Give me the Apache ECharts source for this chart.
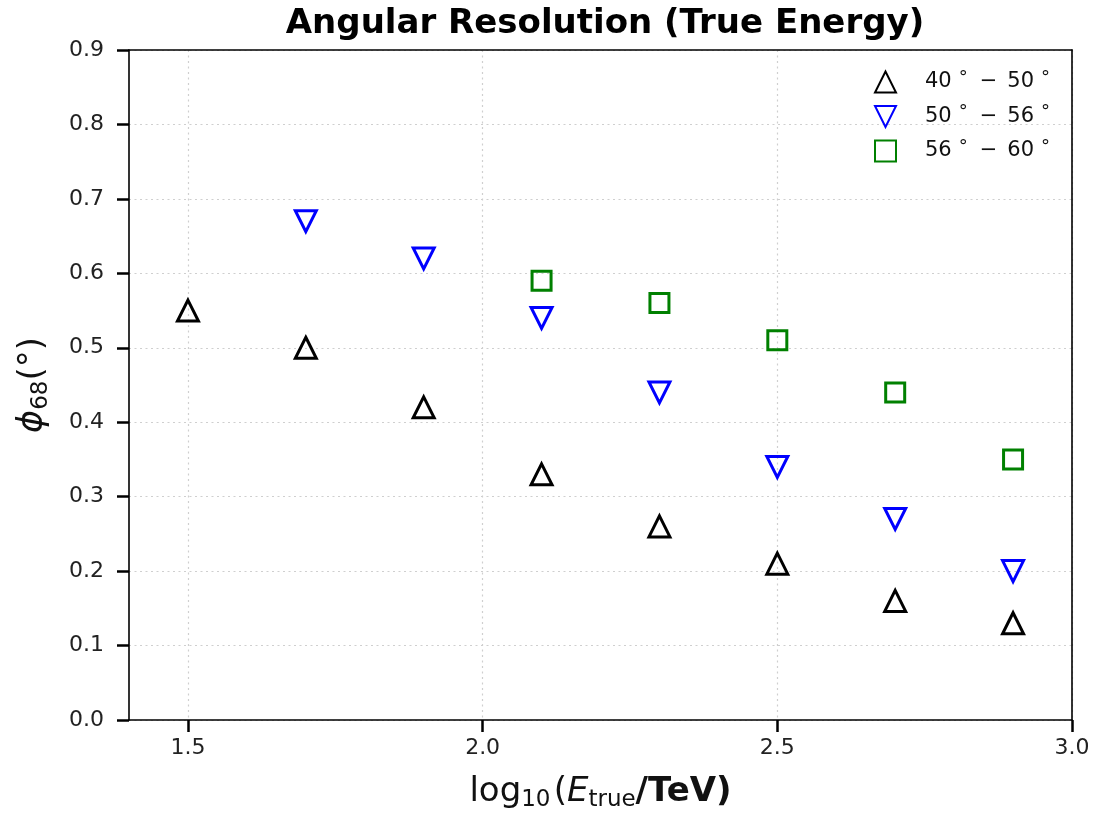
<!DOCTYPE html>
<html>
<head>
<meta charset="utf-8">
<script src="https://cdn.jsdelivr.net/npm/echarts@6/dist/echarts.min.js"></script>
<style>html,body{margin:0;padding:0;background:#fff;}#c{width:1119px;height:815px;}</style>
</head>
<body>
<div id="c"></div>
<script>
const xTicks = [1.5, 2.0, 2.5, 3.0];
const yTicks = [0.0, 0.1, 0.2, 0.3, 0.4, 0.5, 0.6, 0.7, 0.8, 0.9];
const x40 = [1.5, 1.7, 1.9, 2.1, 2.3, 2.5, 2.7, 2.9];
const y40 = [0.55, 0.50, 0.42, 0.33, 0.26, 0.21, 0.16, 0.13];
const x50 = [1.7, 1.9, 2.1, 2.3, 2.5, 2.7, 2.9];
const y50 = [0.67, 0.62, 0.54, 0.44, 0.34, 0.27, 0.20];
const x56 = [2.1, 2.3, 2.5, 2.7, 2.9];
const y56 = [0.59, 0.56, 0.51, 0.44, 0.35];
const names = ['40{s|°}{m|−}50{s|°}', '50{s|°}{m|−}56{s|°}', '56{s|°}{m|−}60{s|°}'];
const legendNames = ['40-50', '50-56', '56-60'];

const font = 'DejaVu Sans';
function pairs(xs, ys){ return xs.map((x,i)=>[x, ys[i]]); }
const chart = echarts.init(document.getElementById('c'), null, {renderer:'canvas'});
const gridLine = {show:true, lineStyle:{color:'#cfcfcf', type:[2,3.5], width:1.2}};
const frameAxis = {axisLine:{show:true, onZero:false, lineStyle:{color:'#000', width:1.6}},
  axisTick:{show:false}, axisLabel:{show:false}, splitLine:{show:false}};
chart.setOption({
  backgroundColor:'#fff',
  animation:false,
  title:{text:'Angular Resolution (True Energy)', left:600, top:2, textAlign:'center',
    textStyle:{fontFamily:font, fontWeight:'bold', fontSize:34, color:'#000'}},
  grid:{left:129, top:50, right:47, bottom:95, containLabel:false, outerBoundsMode:'none'},
  legend:{orient:'vertical', left:869, top:64, itemGap:10, itemWidth:21, itemHeight:21,
    data:legendNames,
    formatter:function(n){return names[legendNames.indexOf(n)];},
    textStyle:{fontFamily:font, fontSize:21, color:'#111', padding:[0,0,0,24],
      rich:{s:{fontFamily:font, fontSize:18, verticalAlign:'top', padding:[0,0,8,7], color:'#111'},
            m:{fontFamily:font, fontSize:21, padding:[0,10,0,12], color:'#111'}}}},
  xAxis:[{type:'value', min:1.4, max:3.0,
    name:'log{sub|10}{sp| }({it|E}{sub|true}{b|/TeV)}', nameLocation:'middle', nameGap:52,
    nameTextStyle:{fontFamily:font, fontSize:34, color:'#111',
      rich:{sub:{fontFamily:font, fontSize:23, verticalAlign:'bottom', padding:[17,0,0,0], color:'#111'},
            sp:{fontFamily:font, fontSize:10, color:'#111'},
            it:{fontFamily:font, fontSize:34, fontStyle:'italic', color:'#111'},
            b:{fontFamily:font, fontSize:34, fontWeight:'bold', color:'#111'}}},
    axisLine:{show:true, onZero:false, lineStyle:{color:'#000', width:1.6}},
    axisTick:{show:true, customValues:xTicks, length:12, lineStyle:{color:'#000', width:2.5}},
    axisLabel:{customValues:xTicks, fontFamily:font, fontSize:22, color:'#222', margin:17,
      formatter:v=>v.toFixed(1)},
    splitLine:gridLine},
    Object.assign({type:'value', min:1.4, max:3.0, position:'top'}, frameAxis)],
  yAxis:[{type:'value', min:0, max:0.9, interval:0.1,
    name:'{i|ϕ}{sub|68}(°)', nameLocation:'middle', nameGap:76, nameRotate:90,
    nameTextStyle:{fontFamily:font, fontSize:34, color:'#111',
      rich:{i:{fontFamily:font, fontSize:35, fontStyle:'italic', color:'#111'},
            sub:{fontFamily:font, fontSize:23, verticalAlign:'bottom', padding:[17,0,0,0], color:'#111'}}},
    axisLine:{show:true, onZero:false, lineStyle:{color:'#000', width:1.6}},
    axisTick:{show:true, length:12, lineStyle:{color:'#000', width:2.5}},
    axisLabel:{fontFamily:font, fontSize:22, color:'#222', margin:25, formatter:v=>v.toFixed(1)},
    splitLine:gridLine},
    Object.assign({type:'value', min:0, max:0.9, interval:0.1, position:'right'}, frameAxis)],
  series:[
    {name:legendNames[0], type:'scatter', data:pairs(x40,y40), symbol:'triangle', symbolSize:21,
      itemStyle:{color:'rgba(255,255,255,0)', borderColor:'#000', borderWidth:3, opacity:1}},
    {name:legendNames[1], type:'scatter', data:pairs(x50,y50), symbol:'path://M0,0L2,0L1,2Z', symbolSize:21,
      itemStyle:{color:'rgba(255,255,255,0)', borderColor:'#0000ff', borderWidth:3, opacity:1}},
    {name:legendNames[2], type:'scatter', data:pairs(x56,y56), symbol:'rect', symbolSize:19,
      itemStyle:{color:'rgba(255,255,255,0)', borderColor:'#008000', borderWidth:3, opacity:1}}
  ]
});
</script>
</body>
</html>
